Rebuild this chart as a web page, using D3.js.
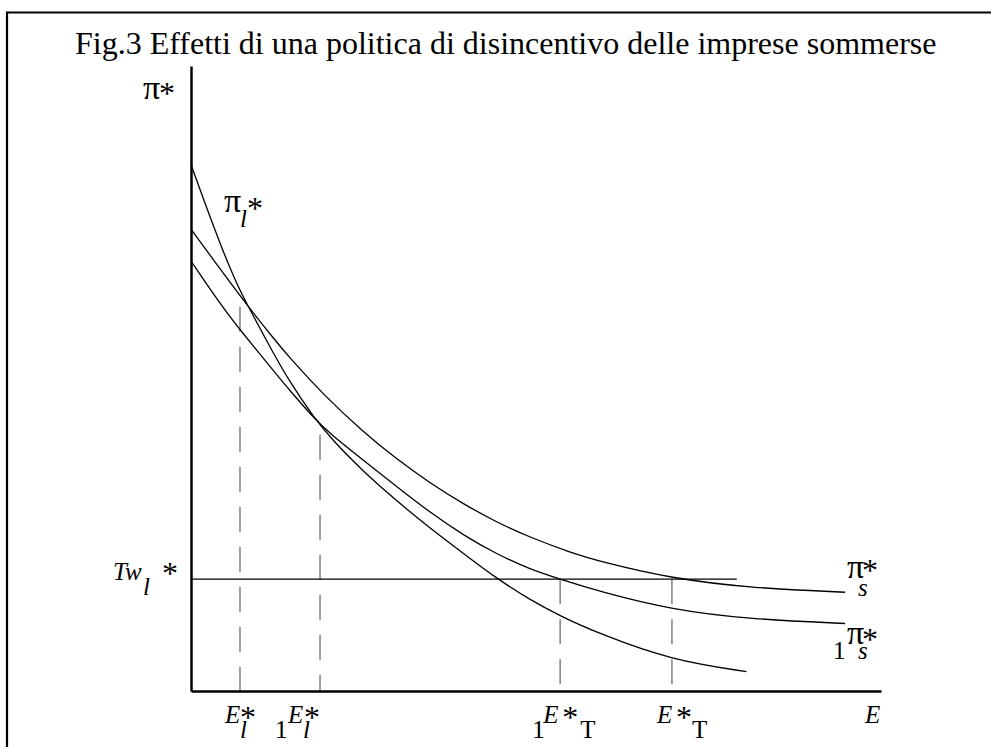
<!DOCTYPE html>
<html>
<head>
<meta charset="utf-8">
<script src="https://cdn.jsdelivr.net/npm/d3@7"></script>
<style>
body { margin: 0; background: #fff; }
text { font-family: "Liberation Serif", "Times New Roman", serif; fill: #000; }
</style>
</head>
<body>
<script>
// --- data (E on x, profit pi* on y, arbitrary units) ---
var titleText = "Fig.3 Effetti di una politica di disincentivo delle imprese sommerse";

// pi_l* curve
var eL  = [0, 0.23, 0.47, 0.66, 0.83, 1.19, 1.43, 1.77, 2.06, 2.50, 2.98, 3.46, 3.95, 4.43, 4.91, 5.35, 5.93, 6.97, 8.05];
var piL = [8.42, 7.72, 7.02, 6.52, 6.15, 5.41, 4.95, 4.39, 4.00, 3.51, 3.04, 2.61, 2.20, 1.80, 1.46, 1.20, 0.91, 0.49, 0.31];

// pi_s* curve
var eS  = [0, 0.47, 0.83, 1.19, 1.43, 1.92, 2.50, 2.98, 3.46, 3.95, 4.43, 4.91, 5.49, 5.93, 6.97, 8.10, 9.48];
var piS = [7.39, 6.68, 6.15, 5.65, 5.33, 4.74, 4.14, 3.71, 3.33, 2.99, 2.70, 2.46, 2.22, 2.07, 1.80, 1.65, 1.58];

// 1pi_s* curve (after the policy)
var eS1  = [0, 0.47, 0.71, 1.19, 1.43, 1.77, 2.01, 2.50, 2.98, 3.46, 3.95, 4.43, 4.91, 5.35, 5.93, 6.97, 8.10, 9.48];
var piS1 = [6.88, 6.12, 5.78, 5.13, 4.81, 4.38, 4.12, 3.69, 3.27, 2.86, 2.49, 2.19, 1.95, 1.79, 1.59, 1.30, 1.15, 1.08];

// Tw_l* level
var twLevel = 1.79;
var twEnd = 7.91;

// dashed drop lines: E_l*, 1E_l*, 1E*_T, E*_T
var dashE   = [0.71, 1.87, 5.35, 6.97];
var dashTop = [6.15, 4.10, 1.79, 1.79];

// label pieces: [text, dx, dy, italic, size]
var dashLabels = [
    [["E", -15, 32, 1, 25], ["*", 0, 37, 0, 32], ["l", 0, 47, 1, 25]],
    [["1", -45, 47, 0, 25], ["E", -32, 32, 1, 25], ["*", -16, 37, 0, 32], ["l", -17, 47, 1, 25]],
    [["1", -28, 47, 0, 25], ["E", -17, 32, 1, 25], ["*", 2, 37, 0, 32], ["T", 20, 47, 0, 25]],
    [["E", -15, 32, 1, 25], ["*", 4, 37, 0, 32], ["T", 20, 47, 0, 25]]
];
var labelPiS  = [["π", 2, -14, 0, 34], ["*", 17, -11, 0, 32], ["s", 13, 4, 1, 25]];
var labelPiS1 = [["1", -12, 35, 0, 25], ["π", 2, 20, 0, 34], ["*", 17, 26, 0, 32], ["s", 13, 35, 1, 25]];
var labelPiL  = [["π", -1, 0, 0, 34], ["l", 15, 15, 1, 25], ["*", 22, 7, 0, 32]];
var labelTw   = [["Tw", -78, 1, 1, 25], ["l", -48, 16, 1, 25], ["*", -29, 5, 0, 32]];
var labelYAxis = [["π", 0, 0, 0, 34], ["*", 16, 5, 0, 32]];
var labelXAxis = [["E", -16, 32, 1, 25]];

// --- drawing ---
var W = 991, H = 747;
var svg = d3.select("body").append("svg")
    .attr("width", W)
    .attr("height", H);

var x = d3.scaleLinear().domain([0, 10]).range([191, 881]);
var y = d3.scaleLinear().domain([0, 10]).range([691, 66]);

// frame (only top and left edges are inside the picture)
svg.append("path")
    .attr("d", "M7,747 V12.5 H991")
    .attr("fill", "none")
    .attr("stroke", "#000")
    .attr("stroke-width", 2.2);

svg.append("text")
    .attr("x", 75)
    .attr("y", 54)
    .attr("font-size", 32)
    .text(titleText);

function label(px, py, parts) {
    var t = svg.append("text");
    parts.forEach(function(p) {
        t.append("tspan")
            .attr("x", px + p[1])
            .attr("y", py + p[2])
            .attr("font-style", p[3] ? "italic" : "normal")
            .attr("font-size", p[4])
            .text(p[0]);
    });
}

// dashed drop lines
dashE.forEach(function(e, i) {
    svg.append("line")
        .attr("x1", x(e)).attr("x2", x(e))
        .attr("y1", y(dashTop[i])).attr("y2", y(0))
        .attr("stroke", "#808080")
        .attr("stroke-width", 1.5)
        .attr("stroke-dasharray", "25,15");
    label(x(e), y(0), dashLabels[i]);
});

// horizontal Tw_l*
svg.append("line")
    .attr("x1", x(0)).attr("x2", x(twEnd))
    .attr("y1", y(twLevel)).attr("y2", y(twLevel))
    .attr("stroke", "#000")
    .attr("stroke-width", 1.3);

var line = d3.line()
    .x(function(d) { return x(d[0]); })
    .y(function(d) { return y(d[1]); })
    .curve(d3.curveBasis);

[[eL, piL], [eS, piS], [eS1, piS1]].forEach(function(c) {
    svg.append("path")
        .datum(d3.zip(c[0], c[1]))
        .attr("d", line)
        .attr("fill", "none")
        .attr("stroke", "#000")
        .attr("stroke-width", 1.3);
});

// axes: plain lines, no ticks
svg.append("g")
    .attr("transform", "translate(0," + y(0) + ")")
    .call(d3.axisBottom(x).tickValues([]).tickSizeOuter(0))
    .select(".domain").attr("stroke-width", 2.5);
svg.append("g")
    .attr("transform", "translate(" + x(0) + ",0)")
    .call(d3.axisLeft(y).tickValues([]).tickSizeOuter(0))
    .select(".domain").attr("stroke-width", 2.5);

// curve and axis labels
label(x(eS[eS.length - 1]), y(piS[piS.length - 1]), labelPiS);
label(x(eS1[eS1.length - 1]), y(piS1[piS1.length - 1]), labelPiS1);
label(225, 212, labelPiL);
label(x(0), y(twLevel), labelTw);
label(143, 99, labelYAxis);
label(x(10), y(0), labelXAxis);
</script>
</body>
</html>
